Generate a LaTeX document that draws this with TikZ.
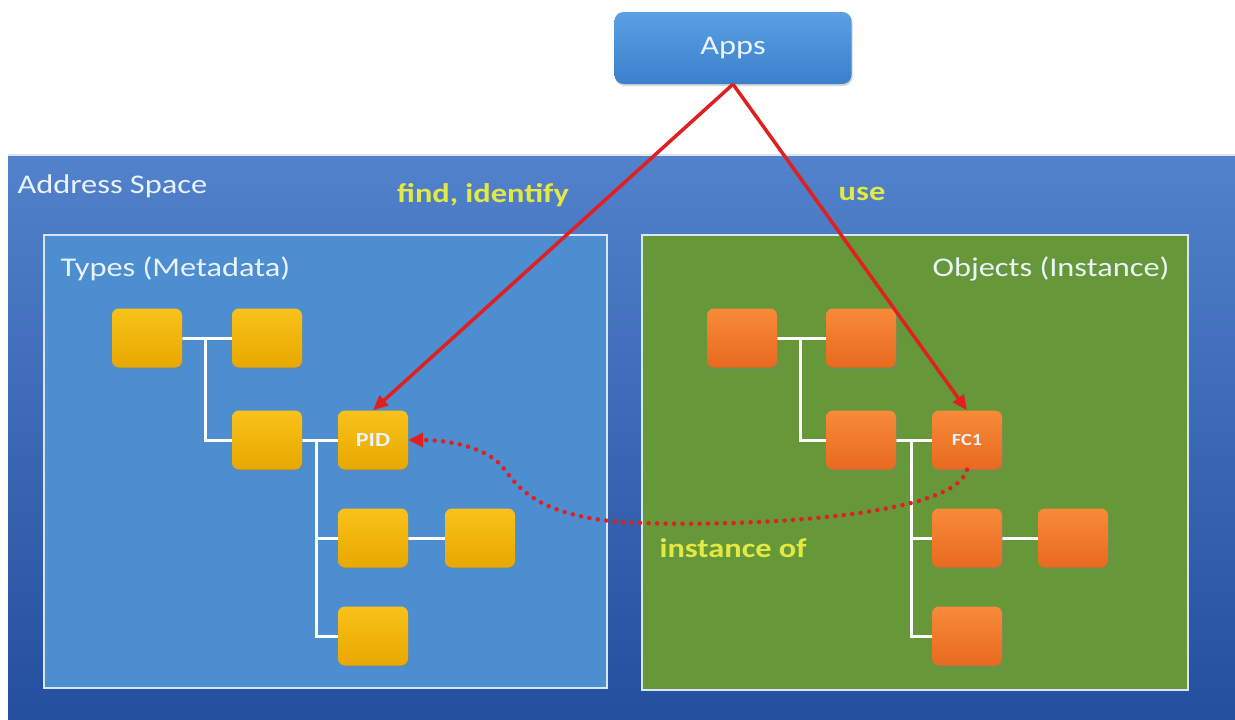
\documentclass[tikz,border=0pt]{standalone}
\usepackage{fontspec}
\setmainfont[FakeStretch=1.2]{Carlito}
\usetikzlibrary{arrows.meta,shadows}
\definecolor{spaceTop}{HTML}{5282CC}
\definecolor{spaceBot}{HTML}{244E9E}
\definecolor{typesFill}{HTML}{4C8ED0}
\definecolor{objFill}{HTML}{66983A}
\definecolor{frameLine}{HTML}{D8E6F4}
\definecolor{ambTop}{HTML}{F8C21A}
\definecolor{ambBot}{HTML}{E8A800}
\definecolor{orgTop}{HTML}{F88A3A}
\definecolor{orgBot}{HTML}{E86A1E}
\definecolor{appTop}{HTML}{5AA0E4}
\definecolor{appBot}{HTML}{3A80CC}
\definecolor{linkRed}{HTML}{E02020}
\definecolor{lblYellow}{HTML}{E4E842}
\definecolor{softWhite}{HTML}{EAF2FA}
\tikzset{
  px/.style={x=1pt,y=-1pt},
  amber/.style={rounded corners=7pt, minimum width=70pt, minimum height=59pt,
    top color=ambTop, bottom color=ambBot, draw=none,
    drop shadow={shadow xshift=1pt,shadow yshift=-2pt,opacity=0.35},
    text=softWhite, font=\fontsize{20}{22}\selectfont\bfseries},
  orange/.style={amber, top color=orgTop, bottom color=orgBot,
    font=\fontsize{17}{19}\selectfont\bfseries},
  tree/.style={draw=white, line width=3pt},
  frame/.style={draw=frameLine, line width=2pt},
  link/.style={draw=linkRed, line width=3.5pt, -{Triangle[length=15pt,width=13pt]}},
  hint/.style={text=lblYellow, font=\fontsize{27}{30}\selectfont\bfseries},
  heading/.style={text=softWhite, font=\fontsize{27}{30}\selectfont, anchor=base west},
}
\begin{document}
\begin{tikzpicture}[px]
\useasboundingbox (0,0) rectangle (1235,720);
\fill[white] (0,0) rectangle (1235,720);
% address space background
\shade[top color=spaceTop, bottom color=spaceBot] (8,155) rectangle (1235,720);
\draw[white!80!spaceTop, line width=1.5pt] (8,155) -- (1235,155);
\node[heading] (addr) at (14,193) {Address Space};
% type and object panels
\fill[typesFill] (44,235) rectangle (607,688);
\draw[frame] (44,235) rectangle (607,688);
\fill[objFill] (642,235) rectangle (1188,690);
\draw[frame] (642,235) rectangle (1188,690);
\node[heading] (types) at (57,276) {Types (Metadata)};
\node[heading, anchor=base east] (objs) at (1173,276) {Objects (Instance)};
% apps
\node[rounded corners=9pt, minimum width=237pt, minimum height=72pt,
  top color=appTop, bottom color=appBot,
  drop shadow={shadow xshift=1pt,shadow yshift=-2pt,opacity=0.3},
  text=softWhite, font=\fontsize{27}{30}\selectfont] (apps) at (733,48) {Apps};
% left tree
\coordinate (a1) at (147,338);
\coordinate (a2) at (267,338);
\coordinate (a3) at (267,440);
\coordinate (pid) at (373,440);
\coordinate (b1) at (373,538);
\coordinate (b2) at (480,538);
\coordinate (b3) at (373,636);
\coordinate (ja) at (205,338);
\coordinate (jb) at (316,440);
\draw[tree] (a1) -- (a2);
\draw[tree] (ja) |- (a3);
\draw[tree] (a3) -- (pid);
\draw[tree] (jb) |- (b1);
\draw[tree] (jb) |- (b3);
\draw[tree] (b1) -- (b2);
% right tree
\coordinate (o1) at (742,338);
\coordinate (o2) at (861,338);
\coordinate (o3) at (861,440);
\coordinate (fc) at (967,440);
\coordinate (p1) at (967,538);
\coordinate (p2) at (1073,538);
\coordinate (p3) at (967,636);
\coordinate (jc) at (800,338);
\coordinate (jd) at (911,440);
\draw[tree] (o1) -- (o2);
\draw[tree] (jc) |- (o3);
\draw[tree] (o3) -- (fc);
\draw[tree] (jd) |- (p1);
\draw[tree] (jd) |- (p3);
\draw[tree] (p1) -- (p2);
% boxes drawn over the tree lines
\node[amber] (na1) at (a1) {};
\node[amber] (na2) at (a2) {};
\node[amber] (na3) at (a3) {};
\node[amber] (npid) at (pid) {PID};
\node[amber] (nb1) at (b1) {};
\node[amber] (nb2) at (b2) {};
\node[amber] (nb3) at (b3) {};
\node[orange] (no1) at (o1) {};
\node[orange] (no2) at (o2) {};
\node[orange] (no3) at (o3) {};
\node[orange] (nfc) at (fc) {FC1};
\node[orange] (np1) at (p1) {};
\node[orange] (np2) at (p2) {};
\node[orange] (np3) at (p3) {};
% relations
\draw[link] (apps.south) -- (npid.north);
\draw[link] (apps.south) -- (nfc.north);
\draw[linkRed, line width=4.5pt, line cap=round, dash pattern=on 0pt off 8.5pt,
  -{Triangle[length=15pt,width=14pt]}]
  (nfc.south) .. controls (955,520) and (720,528) .. (620,522)
  .. controls (540,515) and (520,490) .. (505,470)
  .. controls (490,448) and (450,440) .. (npid.east);
\node[hint, anchor=base] (find) at (483,202) {find, identify};
\node[hint, anchor=base] (use) at (862,200) {use};
\node[hint, anchor=base west] (inst) at (656,557) {instance of};
\end{tikzpicture}
\end{document}
